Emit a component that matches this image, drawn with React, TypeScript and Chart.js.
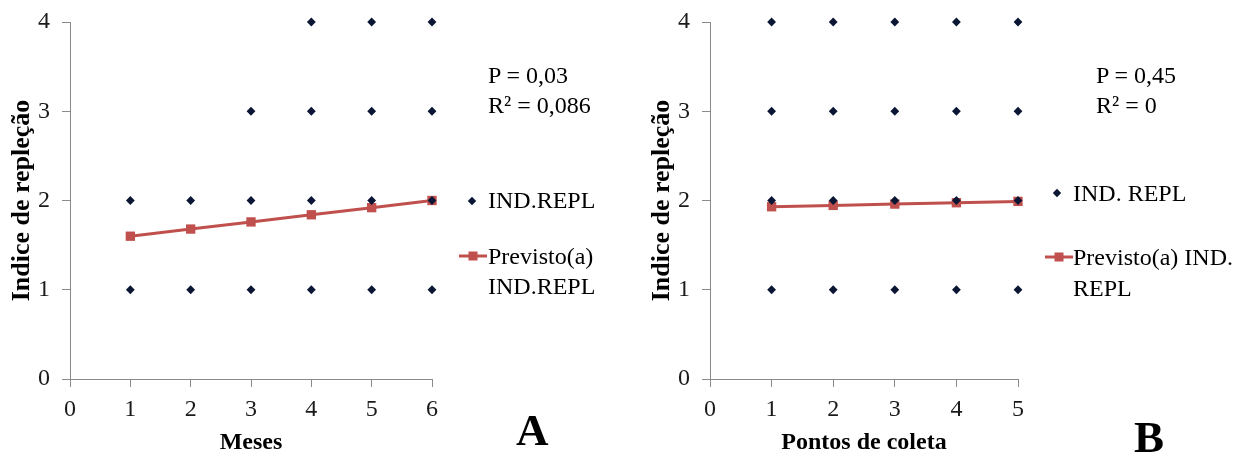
import React, { useEffect, useRef } from "react";
import { Chart, registerables } from "chart.js";

Chart.register(...registerables);

// Panel A – Meses
const monthsCategories = [1, 2, 3, 4, 5, 6];
const monthsObserved = [
  [1, 2],
  [1, 2],
  [1, 2, 3],
  [1, 2, 3, 4],
  [1, 2, 3, 4],
  [1, 2, 3, 4],
];
const monthsPredicted = [1.6, 1.68, 1.76, 1.84, 1.92, 2.0];

// Panel B – Pontos de coleta
const pointsCategories = [1, 2, 3, 4, 5];
const pointsObserved = [
  [1, 2, 3, 4],
  [1, 2, 3, 4],
  [1, 2, 3, 4],
  [1, 2, 3, 4],
  [1, 2, 3, 4],
];
const pointsPredicted = [1.93, 1.945, 1.96, 1.975, 1.99];

const yTicks = [0, 1, 2, 3, 4];

const SERIF = '"Liberation Serif", "Times New Roman", serif';
const AXIS_GRAY = "#8a8a8a";
const DOT = "#0a1633";
const RED = "#c0504d";

type LegendPos = { diamond: [number, number]; line: [number, number, number] };

function legendMarkers(pos: LegendPos) {
  return {
    id: "legendMarkers",
    afterDraw(chart: any) {
      const ctx = chart.ctx as CanvasRenderingContext2D;
      ctx.save();
      const [dx, dy] = pos.diamond;
      const r = 4.2;
      ctx.fillStyle = DOT;
      ctx.beginPath();
      ctx.moveTo(dx, dy - r);
      ctx.lineTo(dx + r, dy);
      ctx.lineTo(dx, dy + r);
      ctx.lineTo(dx - r, dy);
      ctx.closePath();
      ctx.fill();
      const [x1, x2, ly] = pos.line;
      ctx.strokeStyle = RED;
      ctx.lineWidth = 3;
      ctx.beginPath();
      ctx.moveTo(x1, ly);
      ctx.lineTo(x2, ly);
      ctx.stroke();
      ctx.fillStyle = RED;
      const cx = (x1 + x2) / 2;
      ctx.fillRect(cx - 4.5, ly - 4.5, 9, 9);
      ctx.restore();
    },
  };
}

function buildChart(
  canvas: HTMLCanvasElement,
  categories: number[],
  observed: number[][],
  predicted: number[],
  xTitle: string,
  xMax: number,
  rightPad: number,
  legend: LegendPos
) {
  const scatterData: { x: number; y: number }[] = [];
  categories.forEach((c, i) => {
    observed[i].forEach((v) => scatterData.push({ x: c, y: v }));
  });
  const lineData = categories.map((c, i) => ({ x: c, y: predicted[i] }));

  return new Chart(canvas, {
    type: "scatter",
    data: {
      datasets: [
        {
          label: "IND.REPL",
          data: scatterData,
          pointStyle: "rectRot",
          pointRadius: 4.4,
          backgroundColor: DOT,
          borderColor: DOT,
          borderWidth: 0,
          showLine: false,
          clip: false,
        } as any,
        {
          label: "Previsto(a) IND.REPL",
          data: lineData,
          showLine: true,
          pointStyle: "rect",
          pointRadius: 6.6,
          backgroundColor: RED,
          borderColor: RED,
          borderWidth: 3,
          pointBorderWidth: 0,
          clip: false,
        } as any,
      ],
    },
    options: {
      responsive: false,
      animation: false,
      events: [],
      layout: { padding: { top: 22, right: rightPad, left: 0, bottom: 0 } },
      plugins: { legend: { display: false }, tooltip: { enabled: false } },
      scales: {
        x: {
          type: "linear",
          min: 0,
          max: xMax,
          afterFit: (s: any) => {
            s.height = 78;
            s.paddingLeft = 0;
            s.paddingRight = 0;
          },
          ticks: {
            stepSize: 1,
            padding: 8,
            color: "#1a1a1a",
            font: { family: SERIF, size: 24 },
          },
          grid: {
            drawOnChartArea: false,
            drawTicks: true,
            tickLength: 8,
            color: AXIS_GRAY,
          },
          border: { display: true, color: AXIS_GRAY, width: 1 },
          title: {
            display: true,
            text: xTitle,
            color: "#000",
            font: { family: SERIF, size: 24, weight: "bold" },
            padding: { top: 0, bottom: 0 },
          },
        },
        y: {
          type: "linear",
          min: yTicks[0],
          max: yTicks[yTicks.length - 1],
          afterFit: (s: any) => {
            s.width = 70;
            s.paddingTop = 0;
            s.paddingBottom = 0;
          },
          ticks: {
            stepSize: 1,
            padding: 12,
            color: "#1a1a1a",
            font: { family: SERIF, size: 24 },
          },
          grid: {
            drawOnChartArea: false,
            drawTicks: true,
            tickLength: 8,
            color: AXIS_GRAY,
          },
          border: { display: true, color: AXIS_GRAY, width: 1 },
          title: {
            display: true,
            text: "Indice de repleção",
            color: "#000",
            font: { family: SERIF, size: 26, weight: "bold" },
            padding: { top: 7, bottom: 0 },
          },
        },
      },
    },
    plugins: [legendMarkers(legend)],
  });
}

const textStyle: React.CSSProperties = {
  position: "absolute",
  fontFamily: SERIF,
  fontSize: 24,
  lineHeight: "30px",
  color: "#000",
  whiteSpace: "nowrap",
};

export default function App() {
  const refA = useRef<HTMLCanvasElement>(null);
  const refB = useRef<HTMLCanvasElement>(null);

  useEffect(() => {
    const a = buildChart(
      refA.current!,
      monthsCategories,
      monthsObserved,
      monthsPredicted,
      "Meses",
      6,
      640 - 432,
      { diamond: [472, 201], line: [459, 487, 256] }
    );
    const b = buildChart(
      refB.current!,
      pointsCategories,
      pointsObserved,
      pointsPredicted,
      "Pontos de coleta",
      5,
      596 - 378,
      { diamond: [1057 - 640, 193], line: [1045 - 640, 1073 - 640, 257] }
    );
    return () => {
      a.destroy();
      b.destroy();
    };
  }, []);

  return (
    <div
      style={{
        position: "absolute",
        left: 0,
        top: 0,
        width: 1236,
        height: 457,
        background: "#fff",
        overflow: "hidden",
      }}
    >
      <canvas
        ref={refA}
        width={640}
        height={457}
        style={{ position: "absolute", left: 0, top: 0, width: 640, height: 457 }}
      />
      <canvas
        ref={refB}
        width={596}
        height={457}
        style={{ position: "absolute", left: 640, top: 0, width: 596, height: 457 }}
      />
      {/* Panel A annotations */}
      <div style={{ ...textStyle, left: 488, top: 60 }}>P = 0,03</div>
      <div style={{ ...textStyle, left: 488, top: 90 }}>R² = 0,086</div>
      <div style={{ ...textStyle, left: 488, top: 185 }}>IND.REPL</div>
      <div style={{ ...textStyle, left: 488, top: 241 }}>Previsto(a)</div>
      <div style={{ ...textStyle, left: 488, top: 271 }}>IND.REPL</div>
      <div
        style={{
          ...textStyle,
          left: 516,
          top: 402,
          fontSize: 45,
          lineHeight: "56px",
          fontWeight: "bold",
        }}
      >
        A
      </div>
      {/* Panel B annotations */}
      <div style={{ ...textStyle, left: 1096, top: 60 }}>P = 0,45</div>
      <div style={{ ...textStyle, left: 1096, top: 90 }}>R² = 0</div>
      <div style={{ ...textStyle, left: 1073, top: 178 }}>IND. REPL</div>
      <div style={{ ...textStyle, left: 1073, top: 242 }}>Previsto(a) IND.</div>
      <div style={{ ...textStyle, left: 1073, top: 273 }}>REPL</div>
      <div
        style={{
          ...textStyle,
          left: 1134,
          top: 409,
          fontSize: 45,
          lineHeight: "56px",
          fontWeight: "bold",
        }}
      >
        B
      </div>
    </div>
  );
}
